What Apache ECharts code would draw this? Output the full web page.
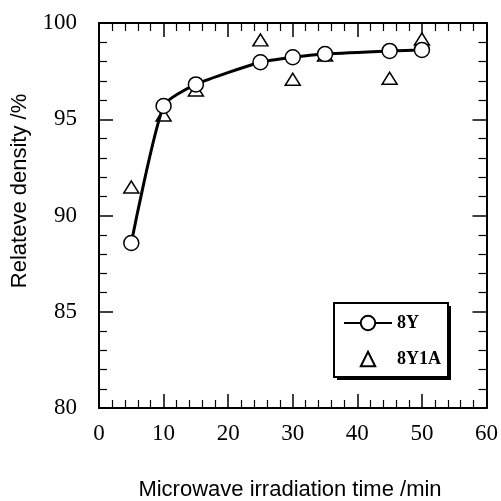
<!DOCTYPE html>
<html>
<head>
<meta charset="utf-8">
<script src="https://cdn.jsdelivr.net/npm/echarts@6/dist/echarts.min.js"></script>
<style>
  html, body { margin: 0; padding: 0; background: #fff; }
  #chart { width: 501px; height: 501px; }
</style>
</head>
<body>
<div id="chart"></div>
<script>
// Irradiation times (min)
const times = [5, 10, 15, 25, 30, 35, 45, 50];
// Relative density (%) of the two compositions
const density8Y = [88.57, 95.69, 96.81, 97.96, 98.22, 98.39, 98.55, 98.6];
const density8Y1A = [91.48, 95.22, 96.52, 99.12, 97.08, 98.34, 97.13, 99.17];
// Axis tick values
const xTicks = [0, 10, 20, 30, 40, 50, 60];
const yTicks = [80, 85, 90, 95, 100];

const serif = '"Liberation Serif", "Times New Roman", serif';
const sans = '"Liberation Sans", Arial, sans-serif';

const chart = echarts.init(document.getElementById('chart'), null, { renderer: 'canvas' });

function axisBase(min, max, interval, showLabel) {
  return {
    type: 'value',
    min: min, max: max, interval: interval,
    axisLine: { show: true, onZero: false, lineStyle: { color: '#000', width: 2 } },
    axisTick: { show: true, inside: true, length: 14, lineStyle: { color: '#000', width: 1.5 } },
    minorTick: { show: true, splitNumber: 5, length: 8, lineStyle: { color: '#000', width: 1.2 } },
    splitLine: { show: false },
    axisLabel: {
      show: showLabel, color: '#000', fontFamily: serif, fontSize: 23, margin: 14
    }
  };
}

const xMain = axisBase(xTicks[0], xTicks[xTicks.length - 1], xTicks[1] - xTicks[0], true);
xMain.position = 'bottom';
const xTop = axisBase(xTicks[0], xTicks[xTicks.length - 1], xTicks[1] - xTicks[0], false);
xTop.position = 'top';
const yMain = axisBase(yTicks[0], yTicks[yTicks.length - 1], yTicks[1] - yTicks[0], true);
yMain.position = 'left';
yMain.axisLabel.margin = 22;
const yRight = axisBase(yTicks[0], yTicks[yTicks.length - 1], yTicks[1] - yTicks[0], false);
yRight.position = 'right';

chart.setOption({
  animation: false,
  backgroundColor: '#fff',
  grid: { left: 99, right: 14, top: 23, bottom: 93 },
  xAxis: [xMain, xTop],
  yAxis: [yMain, yRight],
  legend: {
    left: 343, top: 314,
    orient: 'vertical',
    data: ['8Y', '8Y1A'],
    itemWidth: 48, itemHeight: 18, itemGap: 18,
    padding: 0,
    textStyle: { color: '#000', fontFamily: serif, fontWeight: 'bold', fontSize: 18, lineHeight: 18 }
  },
  graphic: [
    // legend frame with its drop shadow
    { type: 'rect', z: 0, shape: { x: 337, y: 306, width: 114, height: 74 }, style: { fill: '#000' } },
    { type: 'rect', z: 1, shape: { x: 334, y: 303, width: 114, height: 74 }, style: { fill: '#fff', stroke: '#000', lineWidth: 2 } },
    {
      type: 'text', x: 290, y: 490,
      style: { text: 'Microwave irradiation time /min', font: '22px ' + sans, fill: '#000', align: 'center', verticalAlign: 'middle' }
    },
    {
      type: 'text', x: 20, y: 191, rotation: Math.PI / 2,
      style: { text: 'Relateve density /%', font: '22px ' + sans, fill: '#000', align: 'center', verticalAlign: 'middle' }
    }
  ],
  series: [
    {
      name: '8Y1A', type: 'line', z: 2,
      data: times.map((t, i) => [t, density8Y1A[i]]),
      symbol: 'triangle', symbolSize: [15, 12], showAllSymbol: true,
      lineStyle: { opacity: 0, width: 0 },
      itemStyle: { color: '#fff', borderColor: '#000', borderWidth: 1.5 }
    },
    {
      name: '8Y', type: 'line', z: 3,
      data: times.map((t, i) => [t, density8Y[i]]),
      smooth: 0.2,
      symbol: 'circle', symbolSize: 15, showAllSymbol: true,
      lineStyle: { color: '#000', width: 3 },
      itemStyle: { color: '#fff', borderColor: '#000', borderWidth: 1.5 }
    }
  ]
});
</script>
</body>
</html>
